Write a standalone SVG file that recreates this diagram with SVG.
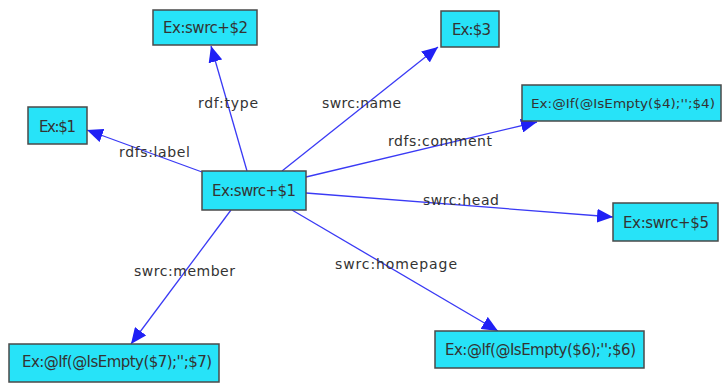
<svg xmlns="http://www.w3.org/2000/svg" width="723" height="383" viewBox="0 0 723 383">
<defs>
<style>
.node rect{fill:#27e3f8;stroke:#4a4a4a;stroke-width:1.5}
.node text{font-family:"DejaVu Sans","Liberation Sans",sans-serif;font-size:15px;fill:#333}
.node text.fit{font-size:13px}
.edge{stroke:#3a3af5;stroke-width:1.3;fill:none;marker-end:url(#arr)}
.lbl{font-family:"DejaVu Sans","Liberation Sans",sans-serif;font-size:14px;fill:#333}
</style>
<marker id="arr" viewBox="0 0 16 14" refX="16" refY="7" markerWidth="16" markerHeight="14" markerUnits="userSpaceOnUse" orient="auto">
<path d="M0,0 L16,7 L0,14 Z" fill="#2020f5"/>
</marker>
</defs>
<rect width="723" height="383" fill="#fff"/>
<g id="connectors">
<line class="edge" x1="247" y1="171" x2="211" y2="46"/>
<line class="edge" x1="282" y1="171" x2="438" y2="47"/>
<line class="edge" x1="202" y1="172" x2="87" y2="130"/>
<line class="edge" x1="306" y1="177" x2="537" y2="122"/>
<line class="edge" x1="306" y1="193" x2="613" y2="217"/>
<line class="edge" x1="292" y1="210" x2="498" y2="331"/>
<line class="edge" x1="231" y1="210" x2="131" y2="344"/>
<text class="lbl" x="198" y="108" textLength="60" lengthAdjust="spacing">rdf:type</text>
<text class="lbl" x="322" y="108" textLength="79" lengthAdjust="spacing">swrc:name</text>
<text class="lbl" x="119" y="157" textLength="71" lengthAdjust="spacing">rdfs:label</text>
<text class="lbl" x="388" y="146" textLength="104" lengthAdjust="spacing">rdfs:comment</text>
<text class="lbl" x="423" y="205" textLength="76" lengthAdjust="spacing">swrc:head</text>
<text class="lbl" x="335" y="269" textLength="122" lengthAdjust="spacing">swrc:homepage</text>
<text class="lbl" x="134" y="276" textLength="101" lengthAdjust="spacing">swrc:member</text>
</g>
<g id="n_swrc1" class="node"><rect x="202" y="171" width="104" height="39"/><text x="212" y="196" textLength="84" lengthAdjust="spacing">Ex:swrc+$1</text></g>
<g id="n_swrc2" class="node"><rect x="153" y="10" width="104" height="35"/><text x="163" y="33" textLength="85" lengthAdjust="spacing">Ex:swrc+$2</text></g>
<g id="n_3" class="node"><rect x="441" y="11" width="58" height="36"/><text x="452" y="35" textLength="39" lengthAdjust="spacing">Ex:$3</text></g>
<g id="n_1" class="node"><rect x="28" y="107" width="59" height="37"/><text x="39" y="132" textLength="37" lengthAdjust="spacing">Ex:$1</text></g>
<g id="n_4" class="node"><rect x="522" y="85" width="199" height="36"/><text class="fit" x="531" y="108" textLength="184" lengthAdjust="spacingAndGlyphs">Ex:@If(@IsEmpty($4);'';$4)</text></g>
<g id="n_swrc5" class="node"><rect x="613" y="203" width="105" height="38"/><text x="623" y="228" textLength="86" lengthAdjust="spacing">Ex:swrc+$5</text></g>
<g id="n_6" class="node"><rect x="435" y="331" width="209" height="37"/><text x="445" y="355" textLength="191" lengthAdjust="spacing">Ex:@If(@IsEmpty($6);'';$6)</text></g>
<g id="n_7" class="node"><rect x="9" y="344" width="210" height="38"/><text x="22" y="367" textLength="190" lengthAdjust="spacing">Ex:@If(@IsEmpty($7);'';$7)</text></g>
</svg>
